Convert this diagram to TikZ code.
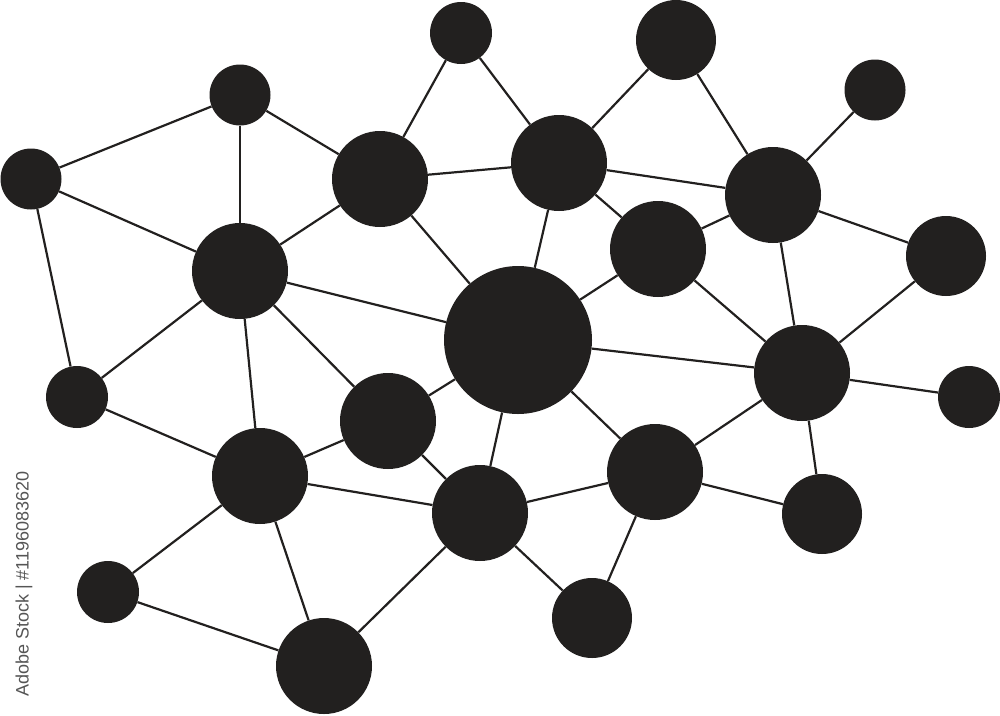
\documentclass[tikz,border=0pt]{standalone}
\usepackage{fontspec}
\setmainfont{Liberation Sans}
\definecolor{ink}{RGB}{34,32,31}
\definecolor{marktext}{RGB}{85,85,85}
\begin{document}
\begin{tikzpicture}[x=1pt,y=-1pt,
  dot/.style={circle,fill=ink,inner sep=0pt,minimum size=#1},
  link/.style={draw=ink,line width=2.2pt}]
\path[use as bounding box] (0,0) rectangle (1000,715);
% small r~31
\node[dot=61] (n1)  at (31,179) {};
\node[dot=61] (n2)  at (240,95) {};
\node[dot=62] (n3)  at (461,33) {};
\node[dot=80] (n4)  at (676,40) {};
\node[dot=61] (n5)  at (875,90) {};
\node[dot=96] (n6)  at (380,179) {};
\node[dot=96] (n7)  at (559,163) {};
\node[dot=96] (n8)  at (773,195) {};
\node[dot=96] (n9)  at (240,271) {};
\node[dot=96] (n10) at (658,249) {};
\node[dot=80] (n11) at (946,256) {};
\node[dot=148] (n12) at (518,340) {};
\node[dot=96] (n13) at (802,373) {};
\node[dot=62] (n14) at (969,397) {};
\node[dot=62] (n15) at (77,397) {};
\node[dot=96] (n16) at (388,421) {};
\node[dot=96] (n17) at (260,476) {};
\node[dot=96] (n18) at (655,472) {};
\node[dot=96] (n19) at (480,513) {};
\node[dot=80] (n20) at (822,514) {};
\node[dot=62] (n21) at (108,592) {};
\node[dot=80] (n22) at (592,618) {};
\node[dot=96] (n23) at (324,666) {};
\foreach \a/\b in {n1/n2,n1/n9,n1/n15,n2/n9,n2/n6,n3/n6,n3/n7,n6/n7,n6/n9,n6/n12,
  n4/n7,n4/n8,n5/n8,n7/n8,n7/n10,n7/n12,n10/n8,n8/n11,n8/n13,n10/n12,n10/n13,
  n9/n12,n9/n15,n9/n16,n9/n17,n11/n13,n13/n14,n12/n13,n13/n18,n13/n20,
  n12/n16,n12/n19,n12/n18,n15/n17,n16/n17,n16/n19,n17/n19,n17/n21,n17/n23,
  n19/n18,n19/n22,n19/n23,n18/n20,n18/n22,n21/n23}
  \draw[link] (\a) -- (\b);
\node[rotate=90,text=marktext,font=\fontsize{18}{20}\selectfont,inner sep=0pt] (mark) at (24,584) {Adobe Stock | \#1196083620};
\end{tikzpicture}
\end{document}
